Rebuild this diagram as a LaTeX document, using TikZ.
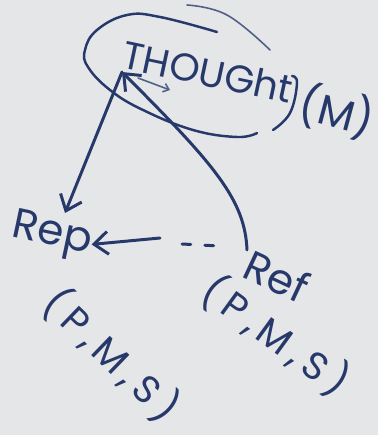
\documentclass[tikz,border=0pt]{standalone}
\usepackage{fontspec}
\setmainfont{Poppins}
\usetikzlibrary{arrows.meta}
\definecolor{inkblue}{HTML}{27386B}
\definecolor{boardgray}{HTML}{E4E6E8}
\tikzset{
    % --- marker styles ---
    hand_line/.style={draw=inkblue, line width=1.7pt, line cap=round, line join=round},
    bubble_line/.style={draw=inkblue, line width=1.4pt, line cap=round},
    thin_line/.style={draw=inkblue!80, line width=0.9pt, line cap=round},
    hand_tip/.style={-{Straight Barb[length=8pt,width=13pt]}},
    hand_text/.style={text=inkblue, inner sep=0pt, font=\fontsize{24}{26}\selectfont},
    small_text/.style={hand_text, font=\fontsize{22}{24}\selectfont\addfontfeatures{LetterSpace=18}}
}

\begin{document}
\begin{tikzpicture}[x=0.02cm, y=-0.02cm]
    \fill[boardgray] (0,0) rectangle (378,435);
    \useasboundingbox (0,0) rectangle (378,435);

    % thought bubble
    \node[small_text, font=\fontsize{22}{24}\selectfont, rotate=-12] (thought) at (208,72) {THOUGht};
    \node[hand_text, rotate=-15] (thoughtm) at (337,112) {(M)};
    \draw[bubble_line] plot[smooth, tension=0.7] coordinates
        {(217,32) (160,17) (127,15) (97,30) (85,50) (88,67) (110,90)
         (143,110) (193,130) (237,137) (257,133)};
    \draw[bubble_line] plot[smooth, tension=0.7] coordinates
        {(273,130) (290,113) (297,83) (292,76)};
    \draw[thin_line] plot[smooth, tension=0.7] coordinates
        {(187,5) (227,15) (270,50)};
    \draw[thin_line, -{Straight Barb[length=3pt,width=5pt]}] (138,78) -- (170,90);

    % Rep and Ref
    \node[hand_text, rotate=-12] (rep) at (52,236) {Rep};
    \node[small_text, rotate=-44] (repargs) at (112,355) {(P,M,S)};
    \node[hand_text, rotate=-25] (ref) at (277,276) {Ref};
    \node[small_text, rotate=-36] (refargs) at (276,336) {(P,M,S)};

    \coordinate (apex) at (122,72);
    \coordinate (rep_in) at (65,213);
    \coordinate (ref_out) at (247,250);
    \coordinate (mid) at (160,238);
    \coordinate (dash_end) at (219,246);

    \draw[hand_line, hand_tip] (apex) -- (rep_in);
    \draw[hand_line, hand_tip] (ref_out) .. controls (245,200) and (215,165) .. (apex);
    \draw[hand_line, hand_tip] (mid) -- (rep.east);
    \draw[hand_line, dash pattern=on 5pt off 8pt] (182,244) -- (dash_end);
\end{tikzpicture}
\end{document}
